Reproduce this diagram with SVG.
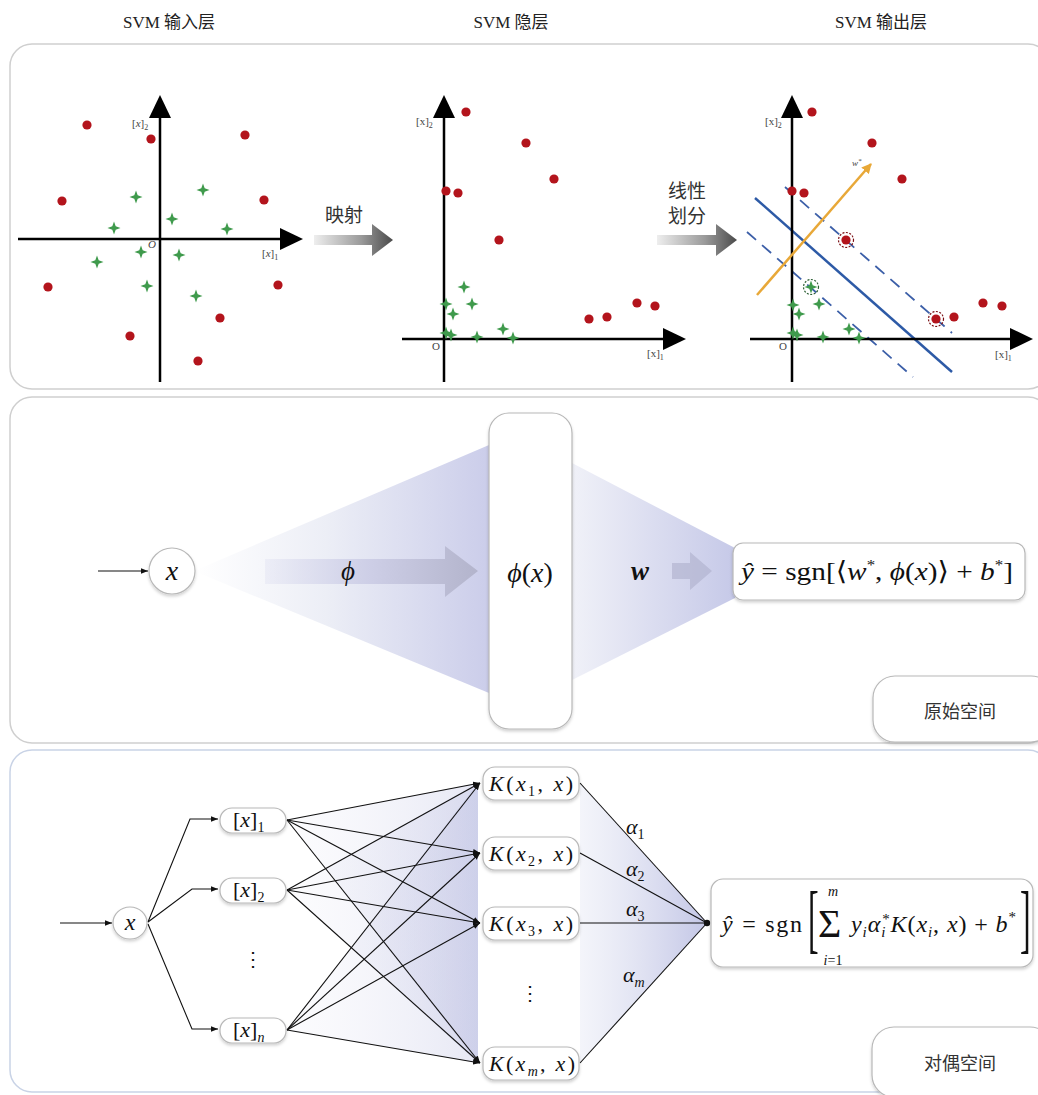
<svg xmlns="http://www.w3.org/2000/svg" width="1038" height="1095" viewBox="0 0 1038 1095">
<style>
.title{font-family:"Liberation Serif","DejaVu Serif","Noto Sans CJK SC",serif;font-size:17px;fill:#222}
.lat{font-family:"Liberation Serif","DejaVu Serif",serif}
.cn{font-family:"Noto Sans CJK SC",sans-serif;fill:#333}
.ax{font-family:"Liberation Serif","DejaVu Serif",serif;fill:#444}
.m{font-family:"Liberation Serif","DejaVu Serif",serif;fill:#111}
.i{font-style:italic}
.panel{fill:#fff;stroke:#cfcfcf;stroke-width:1.5}
.node{fill:#fff;stroke:#b8b8b8;stroke-width:1.2;filter:url(#sh)}
.axis{stroke:#000;stroke-width:2.5}
.ln{stroke:#111;stroke-width:1.1;fill:none}
</style>
<defs>
<filter id="sh" x="-20%" y="-20%" width="140%" height="150%"><feDropShadow dx="0" dy="2" stdDeviation="1.5" flood-color="#000" flood-opacity="0.18"/></filter>
<circle id="dt" r="4.6" fill="#b3141c"/>
<path id="st" d="M0,-6.5 L1.7,-1.7 L6.5,0 L1.7,1.7 L0,6.5 L-1.7,1.7 L-6.5,0 L-1.7,-1.7Z" fill="#3f9a4c"/>
<linearGradient id="ga" x1="0" x2="1" y1="0" y2="0"><stop offset="0" stop-color="#eeeeee"/><stop offset="0.6" stop-color="#9a9a9a"/><stop offset="1" stop-color="#4a4a4a"/></linearGradient>
<linearGradient id="fan1" gradientUnits="userSpaceOnUse" x1="195" x2="489" y1="0" y2="0"><stop offset="0" stop-color="#ffffff"/><stop offset="0.45" stop-color="#eceef6"/><stop offset="1" stop-color="#cbcdea"/></linearGradient>
<linearGradient id="fan2" gradientUnits="userSpaceOnUse" x1="572" x2="735" y1="0" y2="0"><stop offset="0" stop-color="#f0f1f8"/><stop offset="1" stop-color="#c6c9e8"/></linearGradient>
<linearGradient id="arr1" gradientUnits="userSpaceOnUse" x1="265" x2="478" y1="0" y2="0"><stop offset="0" stop-color="#d8d9ee" stop-opacity="0.3"/><stop offset="0.5" stop-color="#cdcee6"/><stop offset="1" stop-color="#b3b4cc"/></linearGradient>
<linearGradient id="fan3" gradientUnits="userSpaceOnUse" x1="287" x2="478" y1="0" y2="0"><stop offset="0" stop-color="#e4e5f3" stop-opacity="0.12"/><stop offset="1" stop-color="#bcbfe2" stop-opacity="0.36"/></linearGradient>
<linearGradient id="fan4" gradientUnits="userSpaceOnUse" x1="580" x2="707" y1="0" y2="0"><stop offset="0" stop-color="#eceef7" stop-opacity="0.6"/><stop offset="1" stop-color="#c3c6e6"/></linearGradient>
<marker id="ah" viewBox="0 0 10 10" refX="10" refY="5" markerWidth="7" markerHeight="7" orient="auto" markerUnits="userSpaceOnUse"><path d="M0,1 L10,5 L0,9 Z" fill="#111"/></marker>
<marker id="oa" viewBox="0 0 10 10" refX="9" refY="5" markerWidth="10" markerHeight="10" orient="auto" markerUnits="userSpaceOnUse"><path d="M0,0 L10,5 L0,10 Z" fill="#e8a838"/></marker>
</defs>
<rect width="1038" height="1095" fill="#fff"/>

<!-- titles -->
<text class="title" x="169" y="28" text-anchor="middle"><tspan class="lat">SVM </tspan>输入层</text>
<text class="title" x="511" y="28" text-anchor="middle"><tspan class="lat">SVM </tspan>隐层</text>
<text class="title" x="881" y="28" text-anchor="middle"><tspan class="lat">SVM </tspan>输出层</text>

<!-- panels -->
<rect id="panel-top" class="panel" x="10" y="44" width="1040" height="345" rx="22"/>
<rect id="panel-mid" class="panel" x="10" y="397" width="1040" height="346" rx="22"/>
<rect id="panel-bot" class="panel" x="10" y="750" width="1040" height="342" rx="22" style="stroke:#c9d3e6"/>

<!-- plot 1 -->
<g id="plot-input">
<line class="axis" x1="160" y1="382" x2="160" y2="112"/>
<path d="M160,95 L171,118 L149,118 Z"/>
<line class="axis" x1="18" y1="239" x2="284" y2="239"/>
<path d="M303,239 L280,228 L280,250 Z"/>
<text class="ax" x="132" y="127" font-size="11">[<tspan class="i">x</tspan>]<tspan font-size="8" dy="3">2</tspan></text>
<text class="ax i" x="148" y="248" font-size="11">O</text>
<text class="ax" x="262" y="257" font-size="11">[<tspan class="i">x</tspan>]<tspan font-size="8" dy="3">1</tspan></text>
<use href="#dt" x="87" y="125"/><use href="#dt" x="151" y="139"/><use href="#dt" x="245" y="135"/>
<use href="#dt" x="62" y="201"/><use href="#dt" x="264" y="200"/><use href="#dt" x="48" y="287"/>
<use href="#dt" x="278" y="285"/><use href="#dt" x="220" y="318"/><use href="#dt" x="130" y="336"/>
<use href="#dt" x="198" y="361"/>
<use href="#st" x="203" y="190"/><use href="#st" x="136" y="197"/><use href="#st" x="172" y="219"/>
<use href="#st" x="114" y="228"/><use href="#st" x="227" y="229"/><use href="#st" x="141" y="252"/>
<use href="#st" x="179" y="255"/><use href="#st" x="97" y="262"/><use href="#st" x="147" y="286"/>
<use href="#st" x="196" y="296"/>
</g>

<!-- mapping arrow -->
<g id="arrow-map">
<path d="M314,235 L372,235 L372,224 L393,240 L372,256 L372,245 L314,245 Z" fill="url(#ga)"/>
<text class="cn" x="325" y="222" font-size="19">映射</text>
</g>

<!-- plot 2 -->
<g id="plot-hidden">
<line class="axis" x1="444" y1="382" x2="444" y2="112"/>
<path d="M444,95 L455,118 L433,118 Z"/>
<line class="axis" x1="402" y1="339" x2="667" y2="339"/>
<path d="M686,339 L663,328 L663,350 Z"/>
<text class="ax" x="416" y="125" font-size="11">[x]<tspan font-size="8" dy="3">2</tspan></text>
<text class="ax" x="432" y="350" font-size="11">O</text>
<text class="ax" x="647" y="357" font-size="11">[x]<tspan font-size="8" dy="3">1</tspan></text>
<use href="#dt" x="466" y="112"/><use href="#dt" x="526" y="143"/><use href="#dt" x="554" y="179"/>
<use href="#dt" x="446" y="191"/><use href="#dt" x="458" y="193"/><use href="#dt" x="499" y="240"/>
<use href="#dt" x="589" y="319"/><use href="#dt" x="607" y="317"/><use href="#dt" x="637" y="303"/>
<use href="#dt" x="655" y="306"/>
<use href="#st" x="464" y="287"/><use href="#st" x="446" y="304"/><use href="#st" x="472" y="304"/>
<use href="#st" x="453" y="314"/><use href="#st" x="446" y="333"/><use href="#st" x="451" y="335"/>
<use href="#st" x="477" y="337"/><use href="#st" x="503" y="329"/><use href="#st" x="513" y="338"/>
</g>

<!-- linear split arrow -->
<g id="arrow-split">
<path d="M657,235 L716,235 L716,224 L737,240 L716,256 L716,245 L657,245 Z" fill="url(#ga)"/>
<text class="cn" x="668" y="198" font-size="19">线性</text>
<text class="cn" x="668" y="223" font-size="19">划分</text>
</g>

<!-- plot 3 -->
<g id="plot-output">
<line x1="755" y1="198" x2="952" y2="372" stroke="#2d5aa6" stroke-width="2.5"/>
<line x1="785" y1="187" x2="952" y2="333" stroke="#3c5fa8" stroke-width="1.8" stroke-dasharray="12,8"/>
<line x1="747" y1="232" x2="913" y2="377" stroke="#3c5fa8" stroke-width="1.8" stroke-dasharray="12,8"/>
<line class="axis" x1="792" y1="382" x2="792" y2="112"/>
<path d="M792,95 L803,118 L781,118 Z"/>
<line class="axis" x1="750" y1="339" x2="1014" y2="339"/>
<path d="M1033,339 L1010,328 L1010,350 Z"/>
<line x1="757" y1="295" x2="871" y2="164" stroke="#e8a838" stroke-width="2.5" marker-end="url(#oa)"/>
<text class="ax i" x="852" y="166" font-size="9">w<tspan font-size="7" dy="-3">*</tspan></text>
<text class="ax" x="765" y="125" font-size="11">[x]<tspan font-size="8" dy="3">2</tspan></text>
<text class="ax" x="779" y="350" font-size="11">O</text>
<text class="ax" x="995" y="358" font-size="11">[x]<tspan font-size="8" dy="3">1</tspan></text>
<use href="#dt" x="812" y="112"/><use href="#dt" x="872" y="143"/><use href="#dt" x="902" y="179"/>
<use href="#dt" x="792" y="191"/><use href="#dt" x="804" y="193"/><use href="#dt" x="846" y="240"/>
<use href="#dt" x="936" y="319"/><use href="#dt" x="954" y="317"/><use href="#dt" x="983" y="303"/>
<use href="#dt" x="1002" y="306"/>
<circle cx="846" cy="240" r="7.5" fill="none" stroke="#7a0d12" stroke-width="1.2" stroke-dasharray="2,1.5"/>
<circle cx="936" cy="319" r="7.5" fill="none" stroke="#7a0d12" stroke-width="1.2" stroke-dasharray="2,1.5"/>
<use href="#st" x="811" y="287"/><use href="#st" x="793" y="305"/><use href="#st" x="819" y="304"/>
<use href="#st" x="799" y="314"/><use href="#st" x="793" y="333"/><use href="#st" x="797" y="335"/>
<use href="#st" x="823" y="337"/><use href="#st" x="849" y="329"/><use href="#st" x="859" y="338"/>
<circle cx="811" cy="287" r="7.5" fill="none" stroke="#2b5e33" stroke-width="1.2" stroke-dasharray="2,1.5"/>
</g>

<!-- middle panel: primal space -->
<g id="connectors-mid">
<polygon points="194,571 489,445 489,693" fill="url(#fan1)"/>
<path d="M265,559 L445,559 L445,546 L478,571 L445,597 L445,584 L265,584 Z" fill="url(#arr1)"/>
<polygon points="572,463 735,548 735,598 572,680" fill="url(#fan2)"/>
<path d="M672,563 L690,563 L690,552 L712,571 L690,590 L690,579 L672,579 Z" fill="#adafcc" opacity="0.6"/>
<line class="ln" x1="98" y1="571" x2="148" y2="571" marker-end="url(#ah)"/>
<text class="m i" x="348" y="580" font-size="27" text-anchor="middle">ϕ</text>
<text class="m i" x="640" y="580" font-size="27" font-weight="bold" text-anchor="middle">w</text>
</g>
<g id="node-x-mid">
<circle class="node" cx="172" cy="571" r="23"/>
<text class="m i" x="172" y="580" font-size="28" text-anchor="middle">x</text>
</g>
<g id="node-phix">
<rect class="node" x="489" y="413" width="83" height="316" rx="20"/>
<text class="m" x="530" y="582" font-size="28" text-anchor="middle"><tspan class="i">ϕ</tspan>(<tspan class="i">x</tspan>)</text>
</g>
<g id="node-out-mid">
<rect class="node" x="733" y="543" width="292" height="57" rx="10"/>
<text class="m" x="741" y="580" font-size="26" textLength="272" lengthAdjust="spacingAndGlyphs"><tspan class="i">ŷ</tspan> = sgn[⟨<tspan class="i">w</tspan><tspan font-size="15" dy="-10">*</tspan><tspan dy="10">, </tspan><tspan class="i">ϕ</tspan>(<tspan class="i">x</tspan>)⟩ + <tspan class="i">b</tspan><tspan font-size="15" dy="-10">*</tspan><tspan dy="10">]</tspan></text>
</g>
<g id="node-primal">
<rect class="node" x="873" y="676" width="180" height="66" rx="22"/>
<text class="cn" x="960" y="718" font-size="18" text-anchor="middle">原始空间</text>
</g>

<!-- bottom panel: dual space -->
<g id="connectors-bot">
<polygon points="287,820 478,783 478,1063" fill="url(#fan3)"/>
<polygon points="287,890 478,783 478,1063" fill="url(#fan3)"/>
<polygon points="287,1030 478,783 478,1063" fill="url(#fan3)"/>
<polygon points="580,783 707,923 580,1063" fill="url(#fan4)"/>
<line class="ln" x1="60" y1="923" x2="112" y2="923" marker-end="url(#ah)"/>
<polyline class="ln" points="148,922 190,819 218,819" marker-end="url(#ah)"/>
<polyline class="ln" points="148,922 192,889 218,889" marker-end="url(#ah)"/>
<polyline class="ln" points="148,924 192,1029 218,1029" marker-end="url(#ah)"/>
<g class="ln" marker-end="url(#ah)">
<line x1="287" y1="820" x2="480" y2="783"/><line x1="287" y1="820" x2="480" y2="853"/>
<line x1="287" y1="820" x2="480" y2="923"/><line x1="287" y1="820" x2="480" y2="1063"/>
<line x1="287" y1="890" x2="480" y2="783"/><line x1="287" y1="890" x2="480" y2="853"/>
<line x1="287" y1="890" x2="480" y2="923"/><line x1="287" y1="890" x2="480" y2="1063"/>
<line x1="287" y1="1030" x2="480" y2="783"/><line x1="287" y1="1030" x2="480" y2="853"/>
<line x1="287" y1="1030" x2="480" y2="923"/><line x1="287" y1="1030" x2="480" y2="1063"/>
</g>
<g class="ln">
<line x1="580" y1="783" x2="707" y2="923"/><line x1="580" y1="853" x2="707" y2="923"/>
<line x1="580" y1="923" x2="707" y2="923"/><line x1="580" y1="1063" x2="707" y2="923"/>
</g>
<circle cx="707" cy="923" r="3.2" fill="#111"/>
<text class="m i" x="626" y="834" font-size="22">α<tspan font-size="14" dy="5" font-style="normal">1</tspan></text>
<text class="m i" x="626" y="876" font-size="22">α<tspan font-size="14" dy="5" font-style="normal">2</tspan></text>
<text class="m i" x="626" y="916" font-size="22">α<tspan font-size="14" dy="5" font-style="normal">3</tspan></text>
<text class="m i" x="623" y="982" font-size="22">α<tspan font-size="14" dy="5">m</tspan></text>
<text class="m" x="253" y="966" font-size="20" text-anchor="middle">⋮</text>
<text class="m" x="530" y="1000" font-size="20" text-anchor="middle">⋮</text>
</g>
<g id="node-x-bot">
<ellipse class="node" cx="130" cy="923" rx="17" ry="16"/>
<text class="m i" x="130" y="930" font-size="24" text-anchor="middle">x</text>
</g>
<g id="node-x1">
<rect class="node" x="220" y="808" width="66" height="25" rx="12"/>
<text class="m" x="233" y="827" font-size="22">[<tspan class="i">x</tspan>]<tspan font-size="14" dy="5">1</tspan></text>
</g>
<g id="node-x2">
<rect class="node" x="220" y="878" width="66" height="25" rx="12"/>
<text class="m" x="233" y="897" font-size="22">[<tspan class="i">x</tspan>]<tspan font-size="14" dy="5">2</tspan></text>
</g>
<g id="node-xn">
<rect class="node" x="220" y="1018" width="66" height="25" rx="12"/>
<text class="m" x="233" y="1037" font-size="22">[<tspan class="i">x</tspan>]<tspan font-size="14" dy="5" class="i">n</tspan></text>
</g>
<g id="node-k1">
<rect class="node" x="483" y="767" width="96" height="33" rx="12"/>
<text class="m" x="489" y="791" font-size="22" textLength="84"><tspan class="i">K</tspan>(<tspan class="i">x</tspan><tspan font-size="14" dy="5">1</tspan><tspan dy="-5">, </tspan><tspan class="i">x</tspan>)</text>
</g>
<g id="node-k2">
<rect class="node" x="483" y="837" width="96" height="33" rx="12"/>
<text class="m" x="489" y="861" font-size="22" textLength="84"><tspan class="i">K</tspan>(<tspan class="i">x</tspan><tspan font-size="14" dy="5">2</tspan><tspan dy="-5">, </tspan><tspan class="i">x</tspan>)</text>
</g>
<g id="node-k3">
<rect class="node" x="483" y="907" width="96" height="33" rx="12"/>
<text class="m" x="489" y="931" font-size="22" textLength="84"><tspan class="i">K</tspan>(<tspan class="i">x</tspan><tspan font-size="14" dy="5">3</tspan><tspan dy="-5">, </tspan><tspan class="i">x</tspan>)</text>
</g>
<g id="node-km">
<rect class="node" x="483" y="1047" width="96" height="33" rx="12"/>
<text class="m" x="489" y="1071" font-size="22" textLength="86"><tspan class="i">K</tspan>(<tspan class="i">x</tspan><tspan font-size="14" dy="5" class="i">m</tspan><tspan dy="-5">, </tspan><tspan class="i">x</tspan>)</text>
</g>
<g id="node-out-bot">
<rect class="node" x="711" y="879" width="322" height="88" rx="12"/>
<text class="m" x="722" y="932" font-size="24" textLength="80"><tspan class="i">ŷ</tspan> = sgn</text>
<text class="m" x="0" y="0" font-size="76" transform="translate(808,944) scale(0.42,1)">[</text>
<text class="m" x="818" y="937" font-size="40">Σ</text>
<text class="m i" x="833" y="896" font-size="14" text-anchor="middle">m</text>
<text class="m" x="833" y="965" font-size="14" text-anchor="middle"><tspan class="i">i</tspan>=1</text>
<text class="m" x="851" y="932" font-size="24" textLength="165" lengthAdjust="spacing"><tspan class="i">y</tspan><tspan class="i" font-size="15" dy="5">i</tspan><tspan class="i" dy="-5">α</tspan><tspan class="i" font-size="15" dy="5">i</tspan><tspan font-size="15" dx="-4" dy="-13">*</tspan><tspan class="i" dy="8">K</tspan>(<tspan class="i">x</tspan><tspan class="i" font-size="15" dy="5">i</tspan><tspan dy="-5">, </tspan><tspan class="i">x</tspan>) + <tspan class="i">b</tspan><tspan font-size="15" dy="-10">*</tspan></text>
<text class="m" x="0" y="0" font-size="76" transform="translate(1020,944) scale(0.42,1)">]</text>
</g>
<g id="node-dual">
<rect class="node" x="872" y="1027" width="180" height="70" rx="22"/>
<text class="cn" x="960" y="1070" font-size="18" text-anchor="middle">对偶空间</text>
</g>
</svg>
